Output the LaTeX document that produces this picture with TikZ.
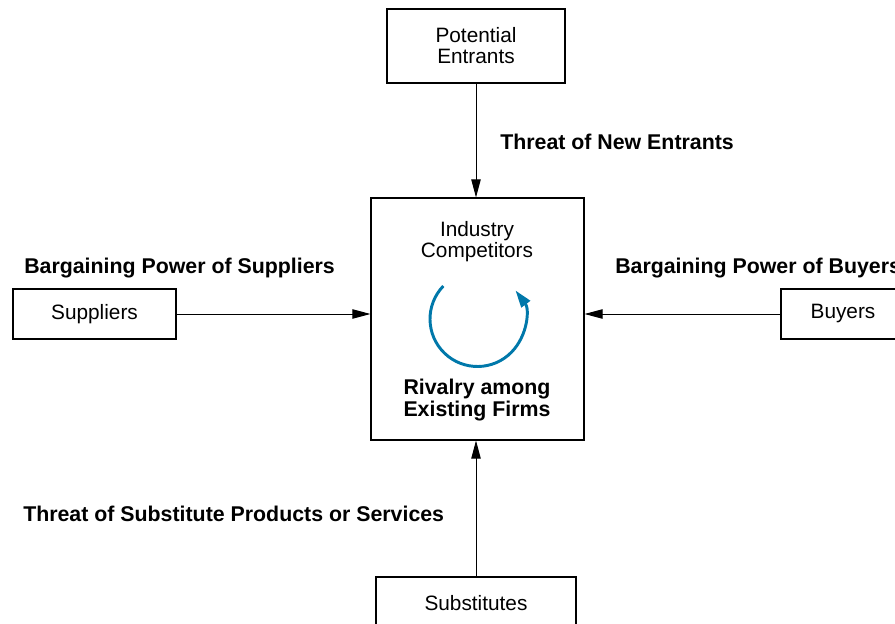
\documentclass[tikz,border=0pt]{standalone}
\usepackage{fontspec}
\setmainfont{Liberation Sans}
\usetikzlibrary{arrows.meta, positioning}

\begin{document}
\begin{tikzpicture}[x=0.75pt, y=-0.75pt, font=\fontsize{15.6pt}{15.8pt}\selectfont,
    box/.style = {draw, thick, rectangle, inner sep=0pt, align=center},
    force/.style = {-{Triangle[length=13.5pt, width=7pt]}, line width=0.75pt},
    tag/.style = {font=\fontsize{16pt}{15.8pt}\selectfont\bfseries, align=center, inner sep=0pt}]
    \useasboundingbox (0,0) rectangle (895,624);
    \node[box, minimum width=178*0.75pt, minimum height=74*0.75pt] (entrants) at (476,46) {Potential\\Entrants};
    \node[box, minimum width=213*0.75pt, minimum height=242*0.75pt] (industry) at (477.5,319) {};
    \node[box, minimum width=163*0.75pt, minimum height=50*0.75pt] (suppliers) at (94.5,314) {Suppliers};
    \node[box, minimum width=124*0.75pt, minimum height=50*0.75pt] (buyers) at (843,314) {Buyers};
    \node[box, minimum width=200*0.75pt, minimum height=52*0.75pt] (substitutes) at (476,603) {Substitutes};
    \node[align=center, inner sep=0pt] (competitors) at (477,242) {Industry\\Competitors};
    \node[tag] (rivalry) at (477,400) {Rivalry among\\Existing Firms};
    % rivalry cycle
    \draw[line width=2.2pt, draw={rgb,255:red,0;green,120;blue,170},
      -{Triangle[length=13pt, width=8pt, fill={rgb,255:red,0;green,120;blue,170}]}]
      (477.5,319) ++(-136:47.5) arc[start angle=-136, end angle=-397, radius=47.5];
    % the five forces
    \draw[force] (entrants) -- (entrants |- industry.north);
    \draw[force] (suppliers) -- (industry.west |- suppliers);
    \draw[force] (buyers) -- (industry.east |- buyers);
    \draw[force] (substitutes) -- (substitutes |- industry.south);
    \node[tag, anchor=west] (newtag) at (500,142) {Threat of New Entrants};
    \node[tag, anchor=west] (suptag) at (24,268) {Bargaining Power of Suppliers};
    \node[tag, anchor=west] (buytag) at (615,268) {Bargaining Power of Buyers};
    \node[tag, anchor=west] (subtag) at (23,514) {Threat of Substitute Products or Services};
\end{tikzpicture}
\end{document}
